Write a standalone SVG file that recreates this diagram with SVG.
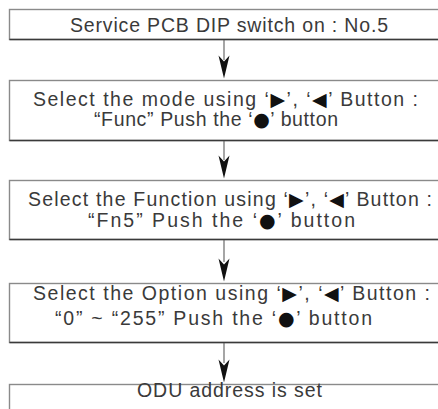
<svg xmlns="http://www.w3.org/2000/svg" width="438" height="409" viewBox="0 0 438 409">
<style>
.box{fill:#fff;stroke:#8a8a8a;stroke-width:1.4}
.bot{stroke:#3a3a3a;stroke-width:1.4}
.t{font-family:"Liberation Sans",Arial,sans-serif;font-size:19.5px;fill:#3a3a3a}
.s{fill:#111;font-family:"DejaVu Sans",sans-serif;font-size:19px}
.c{fill:#111;font-family:"DejaVu Sans",sans-serif;font-size:19px}
.ln{stroke:#6a6a6a;stroke-width:1.2;fill:none}
.hd{fill:#111}
</style>
<rect width="438" height="409" fill="#fff"/>
<g id="connectors">
<line class="ln" x1="224" y1="39.5" x2="224" y2="60"/>
<polygon class="hd" points="218.5,55.5 224,61.5 229.5,55.5 224,78.5"/>
<line class="ln" x1="224" y1="140.5" x2="224" y2="160"/>
<polygon class="hd" points="218.5,155.5 224,161.5 229.5,155.5 224,178.5"/>
<line class="ln" x1="224" y1="239.5" x2="224" y2="262"/>
<polygon class="hd" points="218.5,258.5 224,264.5 229.5,258.5 224,281.5"/>
<line class="ln" x1="224" y1="342.5" x2="224" y2="363"/>
<polygon class="hd" points="218.5,359.5 224,365.5 229.5,359.5 224,382.5"/>
</g>
<g id="n1">
<rect class="box" x="9.5" y="9.5" width="440" height="30"/>
<line class="bot" x1="9.5" y1="39.5" x2="449.5" y2="39.5"/>
<text class="t" x="70" y="32" textLength="318" lengthAdjust="spacing">Service PCB DIP switch on : No.5</text>
</g>
<g id="n2">
<rect class="box" x="9.5" y="80.5" width="440" height="60"/>
<line class="bot" x1="9.5" y1="140.5" x2="449.5" y2="140.5"/>
<text class="t" x="33" y="106" textLength="385" lengthAdjust="spacing">Select the mode using ‘<tspan class="s">▶</tspan>’, ‘<tspan class="s">◀</tspan>’ Button :</text>
<text class="t" x="94" y="126" textLength="244" lengthAdjust="spacing">“Func” Push the ‘<tspan class="c">●</tspan>’ button</text>
</g>
<g id="n3">
<rect class="box" x="9.5" y="180.5" width="440" height="59"/>
<line class="bot" x1="9.5" y1="239.5" x2="449.5" y2="239.5"/>
<text class="t" x="28" y="206" textLength="404" lengthAdjust="spacing">Select the Function using ‘<tspan class="s">▶</tspan>’, ‘<tspan class="s">◀</tspan>’ Button :</text>
<text class="t" x="88" y="226.5" textLength="267" lengthAdjust="spacing">“Fn5” Push the ‘<tspan class="c">●</tspan>’ button</text>
</g>
<g id="n4">
<rect class="box" x="9.5" y="283.5" width="440" height="59"/>
<line class="bot" x1="9.5" y1="342.5" x2="449.5" y2="342.5"/>
<text class="t" x="33" y="300" textLength="397" lengthAdjust="spacing">Select the Option using ‘<tspan class="s">▶</tspan>’, ‘<tspan class="s">◀</tspan>’ Button :</text>
<text class="t" x="55" y="325" textLength="317" lengthAdjust="spacing">“0” ~ “255” Push the ‘<tspan class="c">●</tspan>’ button</text>
</g>
<g id="n5">
<rect class="box" x="9.5" y="384.5" width="440" height="40"/>
<text class="t" x="137" y="397" textLength="185" lengthAdjust="spacing">ODU address is set</text>
</g>
</svg>
